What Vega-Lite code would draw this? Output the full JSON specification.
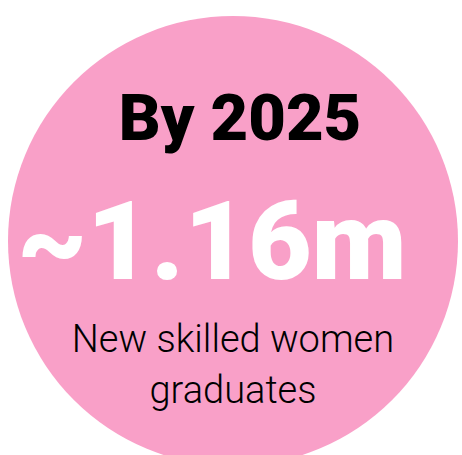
{
  "$schema": "https://vega.github.io/schema/vega-lite/v6.json",
  "width": 462,
  "height": 455,
  "padding": 0,
  "autosize": {"type": "none"},
  "background": "white",
  "config": {"view": {"stroke": null}},
  "datasets": {
    "circle": [{"x": 233, "y": 241}],
    "labels": [
      {"x": 240, "y": 140, "text": "By 2025", "role": "title"},
      {"x": 212, "y": 279, "text": "~1.16m", "role": "big"},
      {"x": 233, "y": 352, "text": "New skilled women", "role": "sub"},
      {"x": 233, "y": 403, "text": "graduates", "role": "sub"}
    ]
  },
  "encoding": {
    "x": {"field": "x", "type": "quantitative", "scale": {"domain": [0, 462]}, "axis": null},
    "y": {"field": "y", "type": "quantitative", "scale": {"domain": [0, 455], "reverse": true}, "axis": null}
  },
  "layer": [
    {
      "data": {"name": "circle"},
      "mark": {"type": "point", "shape": "circle", "filled": true, "size": 202500, "color": "#F9A0C8", "opacity": 1, "clip": false}
    },
    {
      "data": {"name": "labels"},
      "transform": [{"filter": "datum.role === 'title'"}],
      "mark": {"type": "text", "align": "center", "baseline": "alphabetic", "font": "Roboto", "fontWeight": 900, "fontSize": 65, "color": "#000000"},
      "encoding": {"text": {"field": "text"}}
    },
    {
      "data": {"name": "labels"},
      "transform": [{"filter": "datum.role === 'big'"}],
      "mark": {"type": "text", "align": "center", "baseline": "alphabetic", "font": "Roboto", "fontWeight": 900, "fontSize": 110, "color": "#FFFFFF"},
      "encoding": {"text": {"field": "text"}}
    },
    {
      "data": {"name": "labels"},
      "transform": [{"filter": "datum.role === 'sub'"}],
      "mark": {"type": "text", "align": "center", "baseline": "alphabetic", "font": "Roboto", "fontWeight": 300, "fontSize": 38, "color": "#000000"},
      "encoding": {"text": {"field": "text"}}
    }
  ]
}
